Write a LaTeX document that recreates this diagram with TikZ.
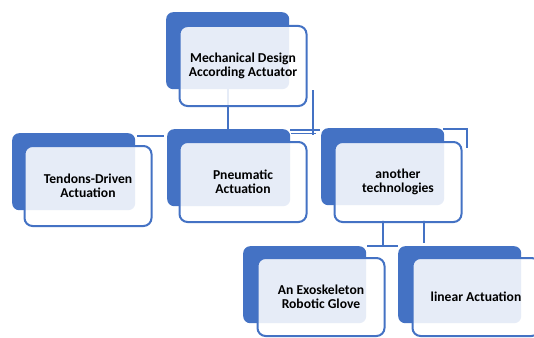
\documentclass[tikz,border=0pt]{standalone}
\usepackage{fontspec}
\setmainfont{Carlito}
\definecolor{accent}{HTML}{4472C4}
\definecolor{txt}{HTML}{000000}
\tikzset{
  backbox/.style={anchor=north west, fill=accent, rounded corners=7pt, inner sep=0pt,
    minimum width=123pt, minimum height=77pt},
  frontbox/.style={anchor=north west, draw=accent, line width=2pt, fill=white, fill opacity=0.87,
    text opacity=1, rounded corners=8pt, inner sep=0pt, minimum width=127pt, minimum height=80pt,
    align=center, text=txt, font=\bfseries\fontsize{13.6}{14.5}\selectfont},
  link/.style={draw=accent, line width=2pt}
}
\begin{document}
\begin{tikzpicture}[x=1pt,y=-1pt]
\useasboundingbox[fill=white] (0,0) rectangle (534,337);
\clip (0,0) rectangle (534,337);
% connector coordinates
\coordinate (c1a) at (228,89);
\coordinate (c1b) at (228,129);
\coordinate (c2a) at (312.5,90);
\coordinate (c2b) at (312.5,135);
\coordinate (c2c) at (290,129.5);
\coordinate (c2d) at (320,129.5);
\coordinate (c2e) at (291,133.5);
\coordinate (c2f) at (316,133.5);
\coordinate (c3a) at (137,136);
\coordinate (c3b) at (164,136);
\coordinate (c4a) at (443,129);
\coordinate (c4b) at (467,129);
\coordinate (c4c) at (467,148);
\coordinate (c5a) at (382.5,220);
\coordinate (c5b) at (382.5,246);
\coordinate (c5c) at (367,246);
\coordinate (c5d) at (398,246);
\coordinate (c6a) at (424,220);
\coordinate (c6b) at (424,243);
\draw[link] (c1a) -- (c1b);
\draw[link] (c2a) -- (c2b);
\draw[link] (c2c) -- (c2d);
\draw[link, line width=1.6pt] (c2e) -- (c2f);
\draw[link] (c3a) -- (c3b);
\draw[link] (c4a) -- (c4b) -- (c4c);
\draw[link] (c5a) -- (c5b);
\draw[link] (c5c) -- (c5d);
\draw[link] (c6a) -- (c6b);
% boxes
\node[backbox] (topB) at (166,12) {};
\node[frontbox] (top) at (178.5,25) {Mechanical Design\\According Actuator};
\node[backbox] (tenB) at (12,133) {};
\node[frontbox] (ten) at (23.5,145) {Tendons-Driven\\Actuation};
\node[backbox] (pneB) at (167,129) {};
\node[frontbox] (pne) at (178.5,141) {Pneumatic\\Actuation};
\node[backbox] (othB) at (321,128) {};
\node[frontbox] (oth) at (333.5,141) {another\\technologies};
\node[backbox] (exoB) at (243,246) {};
\node[frontbox, minimum height=78pt] (exo) at (256.5,257) {An Exoskeleton\\Robotic Glove};
\node[backbox] (linB) at (398,246) {};
\node[frontbox, minimum height=78pt] (lin) at (411.5,257) {linear Actuation};
\end{tikzpicture}
\end{document}
